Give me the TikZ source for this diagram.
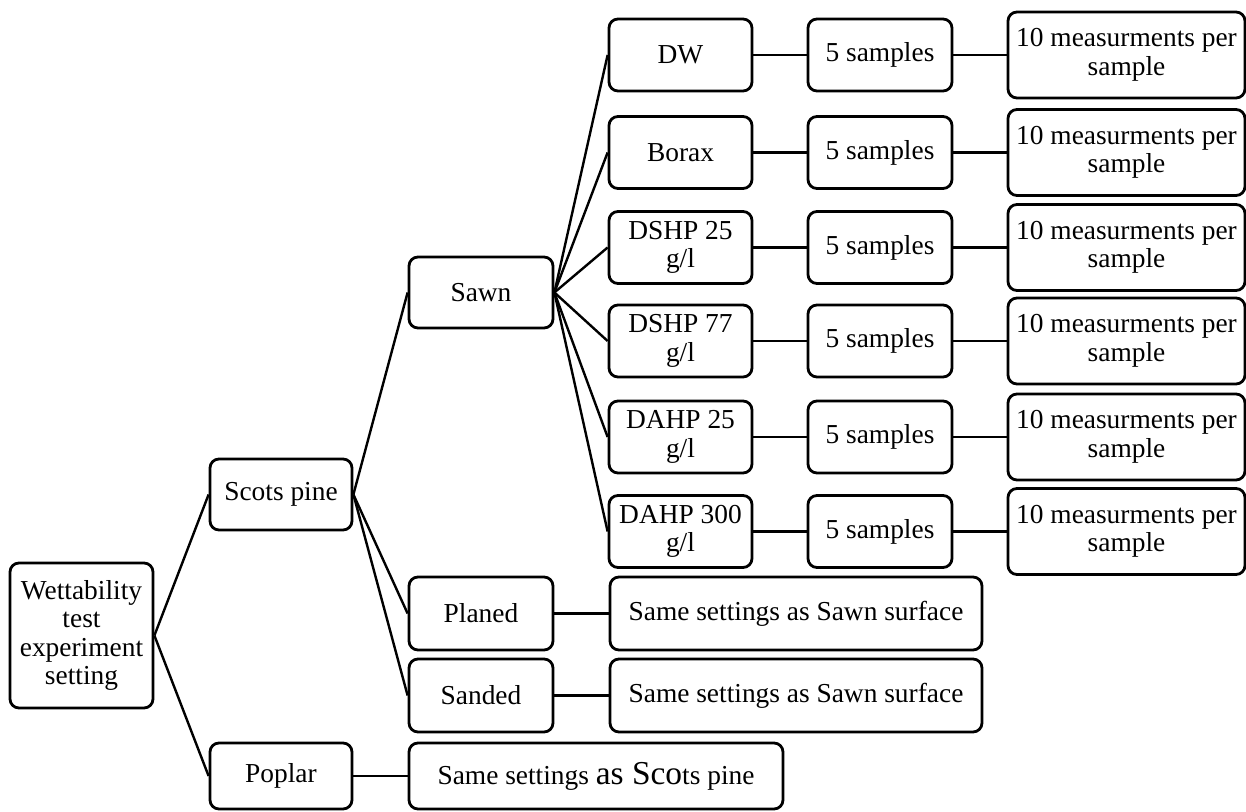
\documentclass[tikz,border=0pt]{standalone}
\usepackage{fontspec}
\usepackage{graphicx}
\setmainfont{Liberation Serif}
\newcommand{\bigpart}[1]{\scalebox{1.22}{#1}}
\begin{document}
\begin{tikzpicture}[x=0.5pt,y=-0.5pt,
  box/.style={draw, line width=1.4pt, rounded corners=4.5pt, align=center, inner sep=1pt,
    font=\fontsize{13.7}{14.3}\selectfont, fill=white},
  link/.style={line width=1.2pt}]
\useasboundingbox (0,0) rectangle (1246,812);
% level 0
\node[box, minimum width=71.5pt, minimum height=72.5pt] (root) at (81.5,635.5) {Wettability\\test\\experiment\\setting};
% level 1
\node[box, minimum width=71pt, minimum height=35.5pt] (scots) at (281,494.5) {Scots pine};
\node[box, minimum width=71pt, minimum height=33pt] (poplar) at (281,776) {Poplar};
% level 2
\node[box, minimum width=72pt, minimum height=35.5pt] (sawn) at (481,292.5) {Sawn};
\node[box, minimum width=72pt, minimum height=36.5pt] (planed) at (481,613.5) {Planed};
\node[box, minimum width=72pt, minimum height=36.5pt] (sanded) at (481,695.5) {Sanded};
\node[box, minimum width=187pt, minimum height=33pt] (samesc) at (596,776) {Same settings \bigpart{as Sco}ts pine};
\node[box, minimum width=186pt, minimum height=36.5pt] (samep) at (796,613.5) {Same settings as Sawn surface};
\node[box, minimum width=186pt, minimum height=36.5pt] (sames) at (796,695.5) {Same settings as Sawn surface};
% level 3
\foreach \n/\t/\y in {dw/{DW}/55, bor/{Borax}/152.5, dsa/{DSHP 25\\g/l}/247.5, dsb/{DSHP 77\\g/l}/341, daa/{DAHP 25\\g/l}/437, dab/{DAHP 300\\g/l}/531.5}{
  \node[box, minimum width=71.5pt, minimum height=36pt] (\n) at (680.5,\y) {\t};
  \node[box, minimum width=72pt, minimum height=36pt] (s\n) at (880,\y) {5 samples};
  \node[box, minimum width=118.5pt, minimum height=43pt] (m\n) at (1126.5,\y) {10 measurments per\\sample};
  \draw[link] (sawn.east) -- (\n.west);
  \draw[link] (\n.east) -- (s\n.west);
  \draw[link] (s\n.east) -- (m\n.west);
}
% connectors
\draw[link] (root.east) -- (scots.west);
\draw[link] (root.east) -- (poplar.west);
\draw[link] (scots.east) -- (sawn.west);
\draw[link] (scots.east) -- (planed.west);
\draw[link] (scots.east) -- (sanded.west);
\draw[link] (planed.east) -- (samep.west);
\draw[link] (sanded.east) -- (sames.west);
\draw[link] (poplar.east) -- (samesc.west);
\end{tikzpicture}
\end{document}
